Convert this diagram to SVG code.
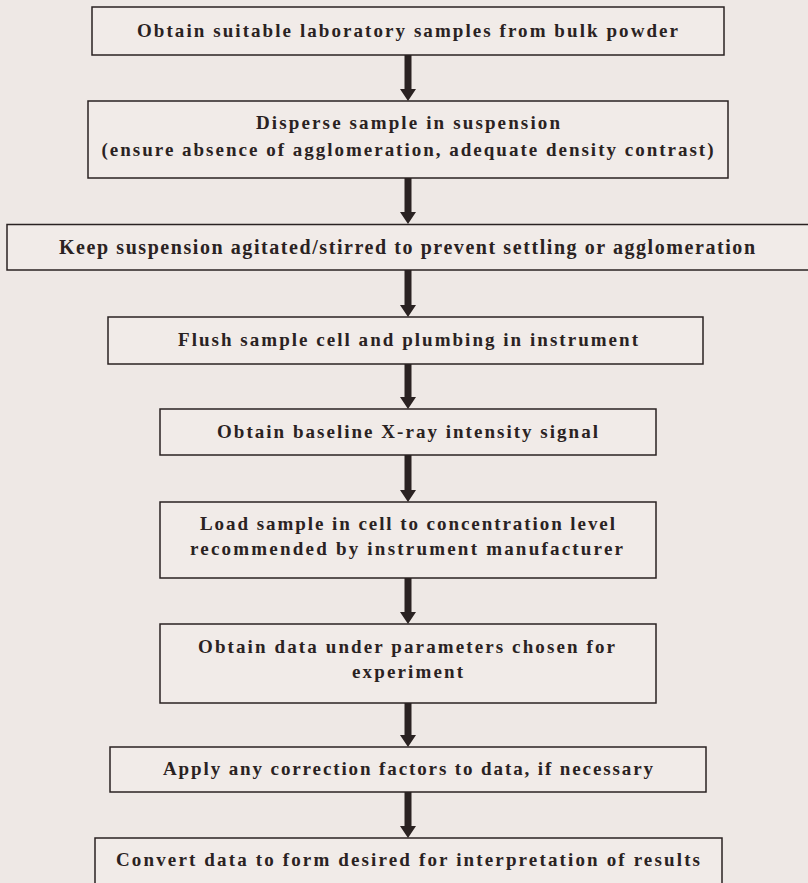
<svg xmlns="http://www.w3.org/2000/svg" width="808" height="883" viewBox="0 0 808 883">
<defs>
<style>
.bg{fill:#eee8e5}
.box{fill:#f1ebe8;stroke:#2a2222;stroke-width:1.5}
.t{font-family:"Liberation Serif","Times New Roman",serif;font-weight:bold;font-size:19px;fill:#2a2222;text-anchor:middle}
.c{font-size:20px}
.ar{fill:#2a2222}
</style>
</defs>
<rect class="bg" x="0" y="0" width="808" height="883"/>
<g id="connectors">
<path class="ar" d="M404.5,55 H411.5 V89 H416 L408,101 L400,89 H404.5 Z"/>
<path class="ar" d="M404.5,178 H411.5 V212 H416 L408,224 L400,212 H404.5 Z"/>
<path class="ar" d="M404.5,270 H411.5 V305 H416 L408,317 L400,305 H404.5 Z"/>
<path class="ar" d="M404.5,364 H411.5 V397 H416 L408,409 L400,397 H404.5 Z"/>
<path class="ar" d="M404.5,455 H411.5 V490 H416 L408,502 L400,490 H404.5 Z"/>
<path class="ar" d="M404.5,578 H411.5 V612 H416 L408,624 L400,612 H404.5 Z"/>
<path class="ar" d="M404.5,703 H411.5 V735 H416 L408,747 L400,735 H404.5 Z"/>
<path class="ar" d="M404.5,792 H411.5 V826 H416 L408,838 L400,826 H404.5 Z"/>
</g>
<g id="n1"><rect class="box" x="92" y="7" width="632" height="48"/>
<text class="t" x="407.5" y="37" textLength="541" lengthAdjust="spacing">Obtain suitable laboratory samples from bulk powder</text></g>
<g id="n2"><rect class="box" x="88" y="101" width="640" height="77"/>
<text class="t" x="408" y="129" textLength="304" lengthAdjust="spacing">Disperse sample in suspension</text>
<text class="t" x="407.5" y="156" textLength="612" lengthAdjust="spacing">(ensure absence of agglomeration, adequate density contrast)</text></g>
<g id="n3"><rect class="box" x="7" y="224.5" width="810" height="45.5"/>
<text class="t c" x="407" y="254" textLength="696" lengthAdjust="spacing">Keep suspension agitated/stirred to prevent settling or agglomeration</text></g>
<g id="n4"><rect class="box" x="108" y="317" width="595" height="47"/>
<text class="t" x="408" y="346" textLength="460" lengthAdjust="spacing">Flush sample cell and plumbing in instrument</text></g>
<g id="n5"><rect class="box" x="160" y="409" width="496" height="46"/>
<text class="t" x="407.5" y="438" textLength="381" lengthAdjust="spacing">Obtain baseline X-ray intensity signal</text></g>
<g id="n6"><rect class="box" x="160" y="502" width="496" height="76"/>
<text class="t" x="407.5" y="530" textLength="415" lengthAdjust="spacing">Load sample in cell to concentration level</text>
<text class="t" x="406.5" y="555" textLength="433" lengthAdjust="spacing">recommended by instrument manufacturer</text></g>
<g id="n7"><rect class="box" x="160" y="624" width="496" height="79"/>
<text class="t" x="406.5" y="653" textLength="417" lengthAdjust="spacing">Obtain data under parameters chosen for</text>
<text class="t" x="407.5" y="678" textLength="111" lengthAdjust="spacing">experiment</text></g>
<g id="n8"><rect class="box" x="110" y="747" width="596" height="45"/>
<text class="t" x="408" y="775" textLength="490" lengthAdjust="spacing">Apply any correction factors to data, if necessary</text></g>
<g id="n9"><rect class="box" x="95" y="838" width="627" height="60"/>
<text class="t" x="408" y="866" textLength="584" lengthAdjust="spacing">Convert data to form desired for interpretation of results</text></g>
</svg>
